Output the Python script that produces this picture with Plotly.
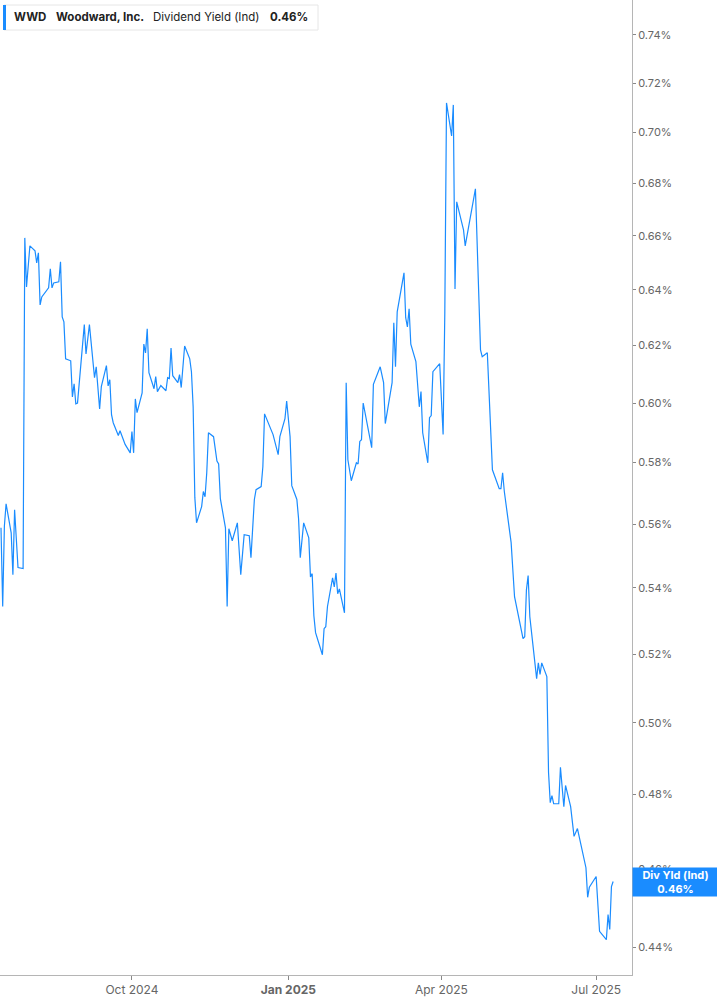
import numpy as np
import plotly.graph_objects as go

# dividend yield (indicated), in percent
dates = [
    "2024-07-16", "2024-07-17", "2024-07-18", "2024-07-19", "2024-07-22", "2024-07-23", "2024-07-24",
    "2024-07-26", "2024-07-29", "2024-07-30", "2024-07-31", "2024-08-02", "2024-08-05", "2024-08-06",
    "2024-08-07", "2024-08-08", "2024-08-09", "2024-08-13", "2024-08-14", "2024-08-15", "2024-08-16",
    "2024-08-19", "2024-08-20", "2024-08-21", "2024-08-22", "2024-08-23", "2024-08-26", "2024-08-27",
    "2024-08-28", "2024-08-29", "2024-08-30", "2024-09-03", "2024-09-04", "2024-09-06", "2024-09-09",
    "2024-09-10", "2024-09-12", "2024-09-13", "2024-09-16", "2024-09-17", "2024-09-18", "2024-09-19",
    "2024-09-20", "2024-09-23", "2024-09-24", "2024-09-26", "2024-09-27", "2024-09-30", "2024-10-01",
    "2024-10-02", "2024-10-03", "2024-10-04", "2024-10-07", "2024-10-08", "2024-10-09", "2024-10-10",
    "2024-10-11", "2024-10-14", "2024-10-15", "2024-10-16", "2024-10-18", "2024-10-21", "2024-10-22",
    "2024-10-23", "2024-10-24", "2024-10-25", "2024-10-28", "2024-10-29", "2024-10-30", "2024-11-01",
    "2024-11-04", "2024-11-05", "2024-11-06", "2024-11-07", "2024-11-08", "2024-11-11", "2024-11-12",
    "2024-11-13", "2024-11-14", "2024-11-15", "2024-11-18", "2024-11-20", "2024-11-21", "2024-11-22",
    "2024-11-25", "2024-11-26", "2024-11-27", "2024-11-29", "2024-12-02", "2024-12-04", "2024-12-06",
    "2024-12-09", "2024-12-10", "2024-12-12", "2024-12-13", "2024-12-16", "2024-12-17", "2024-12-18",
    "2024-12-23", "2024-12-26", "2024-12-27", "2024-12-30", "2024-12-31", "2025-01-02", "2025-01-03",
    "2025-01-06", "2025-01-07", "2025-01-08", "2025-01-10", "2025-01-13", "2025-01-14", "2025-01-15",
    "2025-01-16", "2025-01-17", "2025-01-21", "2025-01-22", "2025-01-23", "2025-01-24", "2025-01-27",
    "2025-01-28", "2025-01-29", "2025-01-30", "2025-01-31", "2025-02-03", "2025-02-04", "2025-02-05",
    "2025-02-07", "2025-02-10", "2025-02-11", "2025-02-12", "2025-02-13", "2025-02-14", "2025-02-19",
    "2025-02-20", "2025-02-24", "2025-02-26", "2025-02-27", "2025-03-03", "2025-03-04", "2025-03-05",
    "2025-03-06", "2025-03-10", "2025-03-11", "2025-03-12", "2025-03-13", "2025-03-14", "2025-03-17",
    "2025-03-19", "2025-03-20", "2025-03-21", "2025-03-24", "2025-03-25", "2025-03-26", "2025-03-27",
    "2025-03-31", "2025-04-02", "2025-04-03", "2025-04-04", "2025-04-07", "2025-04-08", "2025-04-09",
    "2025-04-10", "2025-04-14", "2025-04-15", "2025-04-16", "2025-04-17", "2025-04-21", "2025-04-24",
    "2025-04-25", "2025-04-28", "2025-05-01", "2025-05-05", "2025-05-06", "2025-05-07", "2025-05-08",
    "2025-05-12", "2025-05-14", "2025-05-19", "2025-05-20", "2025-05-21", "2025-05-22", "2025-05-23",
    "2025-05-27", "2025-05-28", "2025-05-29", "2025-05-30", "2025-06-02", "2025-06-03", "2025-06-04",
    "2025-06-05", "2025-06-06", "2025-06-09", "2025-06-10", "2025-06-12", "2025-06-13", "2025-06-16",
    "2025-06-18", "2025-06-20", "2025-06-25", "2025-06-26", "2025-06-27", "2025-07-01", "2025-07-03",
    "2025-07-07", "2025-07-08", "2025-07-09", "2025-07-10", "2025-07-11",
]
div_yield = [
    0.5588, 0.5343, 0.5594, 0.5665, 0.5572, 0.5441, 0.5646,
    0.5463, 0.5460, 0.6592, 0.6410, 0.6562, 0.6544, 0.6499,
    0.6536, 0.6345, 0.6374, 0.6407, 0.6477, 0.6407, 0.6425,
    0.6429, 0.6503, 0.6302, 0.6284, 0.6153, 0.6146, 0.6021,
    0.6066, 0.5997, 0.6000, 0.6274, 0.6170, 0.6274, 0.6087,
    0.6125, 0.5980, 0.6056, 0.6129, 0.6059, 0.6080, 0.5960,
    0.5933, 0.5890, 0.5906, 0.5870, 0.5860, 0.5832, 0.5903,
    0.5832, 0.6014, 0.5967, 0.6035, 0.6205, 0.6174, 0.6259,
    0.6105, 0.6049, 0.6091, 0.6039, 0.6060, 0.6042, 0.6087,
    0.6084, 0.6191, 0.6094, 0.6070, 0.6098, 0.6053, 0.6198,
    0.6153, 0.6108, 0.5987, 0.5685, 0.5604, 0.5656, 0.5705,
    0.5688, 0.5766, 0.5899, 0.5886, 0.5805, 0.5795, 0.5682,
    0.5588, 0.5343, 0.5585, 0.5547, 0.5604, 0.5441, 0.5566,
    0.5563, 0.5494, 0.5679, 0.5711, 0.5721, 0.5786, 0.5963,
    0.5893, 0.5826, 0.5886, 0.5947, 0.6007, 0.5886, 0.5724,
    0.5679, 0.5617, 0.5494, 0.5604, 0.5556, 0.5434, 0.5444,
    0.5315, 0.5264, 0.5198, 0.5276, 0.5282, 0.5343, 0.5431,
    0.5403, 0.5446, 0.5382, 0.5397, 0.5324, 0.6070, 0.5809,
    0.5740, 0.5799, 0.5795, 0.5870, 0.5876, 0.6000, 0.5849,
    0.6064, 0.6125, 0.6070, 0.5930, 0.6070, 0.6281, 0.6125,
    0.6320, 0.6462, 0.6299, 0.6266, 0.6331, 0.6205, 0.6143,
    0.5987, 0.6039, 0.5899, 0.5799, 0.5950, 0.5957, 0.6108,
    0.6136, 0.5893, 0.6316, 0.7119, 0.6986, 0.7111, 0.6403,
    0.6729, 0.6622, 0.6562, 0.6596, 0.6634, 0.6779, 0.6184,
    0.6160, 0.6174, 0.5776, 0.5714, 0.5714, 0.5766, 0.5705,
    0.5541, 0.5373, 0.5246, 0.5252, 0.5394, 0.5438, 0.5312,
    0.5128, 0.5174, 0.5140, 0.5174, 0.5134, 0.4861, 0.4778,
    0.4797, 0.4775, 0.4775, 0.4875, 0.4767, 0.4825, 0.4767,
    0.4687, 0.4708, 0.4604, 0.4527, 0.4553, 0.4581, 0.4440,
    0.4419, 0.4483, 0.4445, 0.4555, 0.4568,
]

y_ticks = [0.44, 0.46, 0.48, 0.50, 0.52, 0.54, 0.56, 0.58, 0.60, 0.62, 0.64, 0.66, 0.68, 0.70, 0.72, 0.74]
x_ticks = ["2024-10-01", "2025-01-01", "2025-04-01", "2025-07-01"]
x_labels = ["Oct 2024", "<b>Jan 2025</b>", "Apr 2025", "Jul 2025"]

BLUE = "#1a8cff"
W, H = 717, 1005
PW, PH = 632, 975  # plot area in px


def px(x):
    return x / PW


def py(y):
    return 1 - y / PH


fig = go.Figure()
fig.add_trace(go.Scatter(x=dates, y=div_yield, mode="lines",
                         line=dict(color=BLUE, width=1.2), showlegend=False))

fig.update_layout(
    width=W, height=H,
    margin=dict(l=0, r=W - PW, t=0, b=H - PH),
    paper_bgcolor="white", plot_bgcolor="white",
    font=dict(family="Inter, Roboto, sans-serif", color="#666"),
    xaxis=dict(range=["2024-07-15 10:00", "2025-07-22 02:00"], showgrid=False, zeroline=False,
               showline=True, linecolor="#b5b5b5", linewidth=1,
               ticks="outside", ticklen=4, tickcolor="#888",
               tickvals=x_ticks, ticktext=x_labels, tickfont=dict(size=12, color="#666")),
    yaxis=dict(type="log", side="right", range=[np.log10(0.4331), np.log10(0.7549)],
               showgrid=False, zeroline=False, showline=True, linecolor="#b5b5b5", linewidth=1,
               ticks="outside", ticklen=3, tickcolor="#888",
               tickvals=y_ticks, ticktext=["%.2f%%" % v for v in y_ticks],
               tickfont=dict(size=11, color="#666")),
)

# header box, top left
fig.add_shape(type="rect", xref="paper", yref="paper", x0=px(4), x1=px(318), y0=py(30), y1=py(5),
              line=dict(color="#e6e6e6", width=1), fillcolor="white", layer="above")
fig.add_shape(type="rect", xref="paper", yref="paper", x0=px(3), x1=px(6), y0=py(30), y1=py(5),
              line=dict(width=0), fillcolor=BLUE, layer="above")
header = [(12, "<b>WWD</b>"), (54, "<b>Woodward, Inc.</b>"), (151, "Dividend Yield (Ind)"), (268, "<b>0.46%</b>")]
for hx, txt in header:
    fig.add_annotation(xref="paper", yref="paper", x=px(hx), y=py(17), text=txt, showarrow=False,
                       xanchor="left", yanchor="middle", font=dict(size=11.5, color="#222"))

# last value tag on the right axis
fig.add_annotation(xref="paper", yref="y", x=1, y=np.log10(div_yield[-1]), xanchor="left", yanchor="middle",
                   text="<b>Div Yld (Ind)</b><br><b>0.46%</b>", showarrow=False, align="center",
                   bgcolor=BLUE, font=dict(size=11, color="white"), width=81, height=24, borderpad=2)

fig.write_html("out.html", config={"displayModeBar": False},
               post_script="document.body.style.margin='0';")
